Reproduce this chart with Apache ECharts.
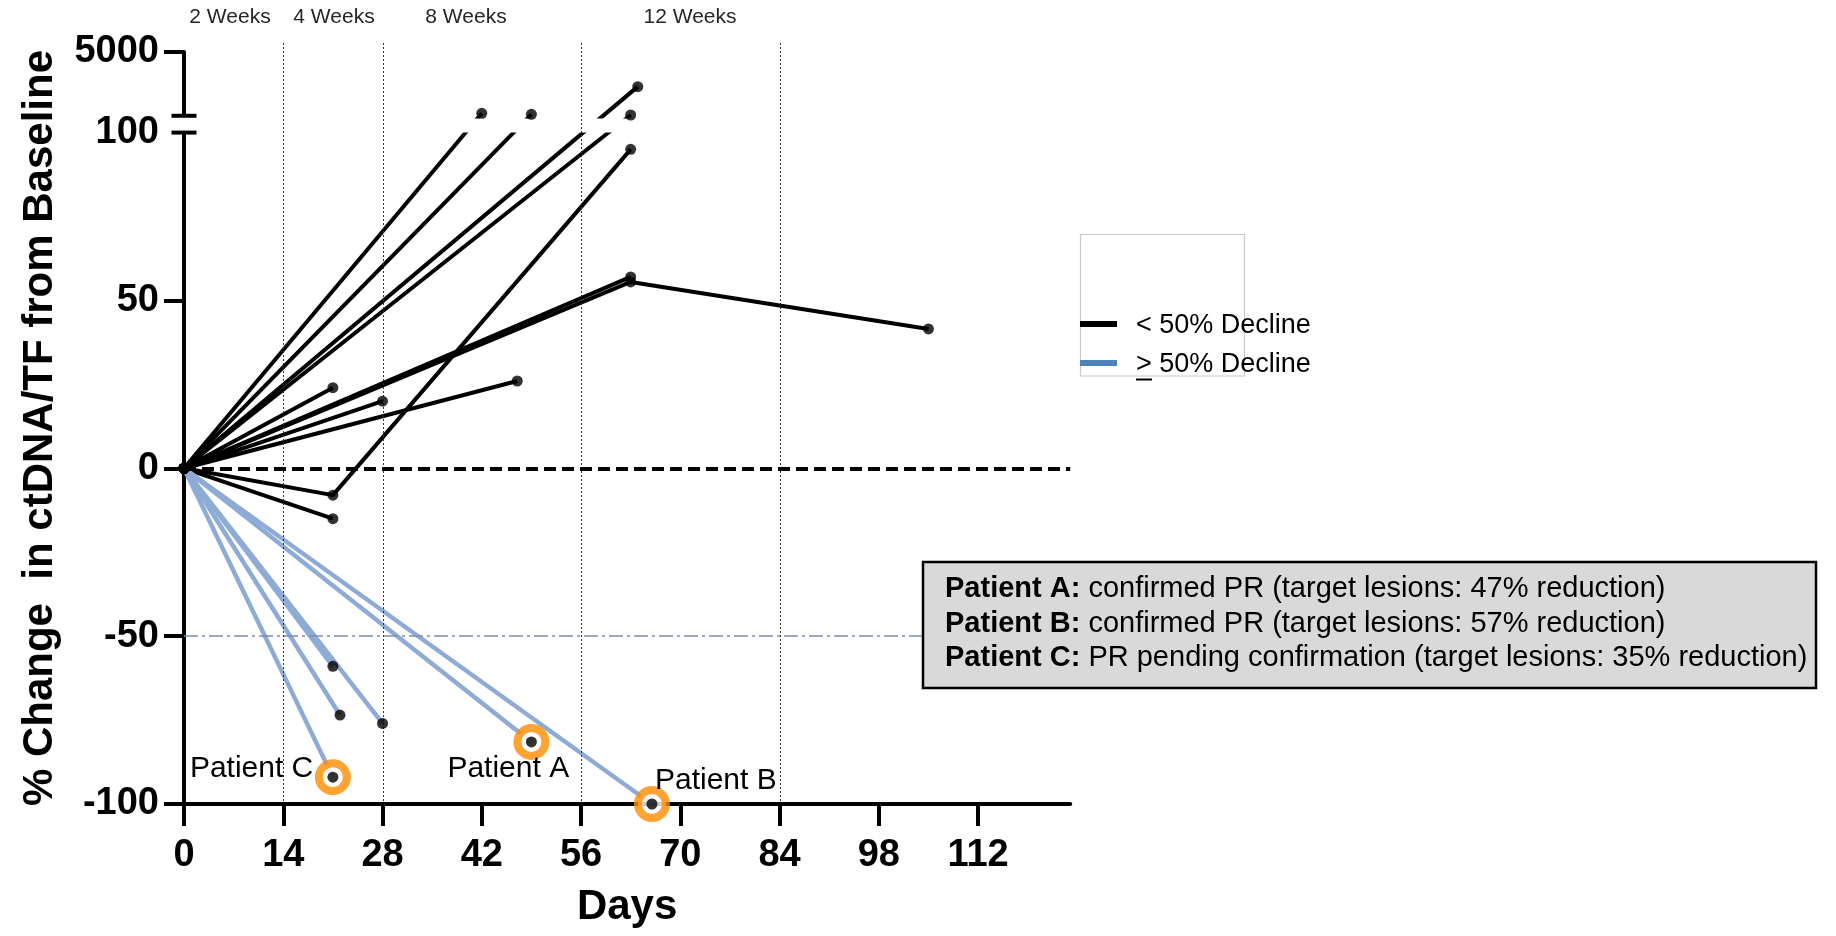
<!DOCTYPE html>
<html>
<head>
<meta charset="utf-8">
<title>ctDNA/TF change from baseline</title>
<script src="https://cdn.jsdelivr.net/npm/echarts@6/dist/echarts.min.js"></script>
<style>
  html, body { margin: 0; padding: 0; background: #ffffff; }
  #chart { width: 1836px; height: 936px; }
</style>
</head>
<body>
<div id="chart"></div>
<script>
// ---- Data -----------------------------------------------------------------
// Patients with < 50% decline: study day of each sample and % change from baseline
const lowDays = [
  [0, 42], [0, 49], [0, 64], [0, 63],
  [0, 21, 63], [0, 63], [0, 63, 105],
  [0, 21], [0, 28], [0, 47], [0, 21]
];
const lowChange = [
  [0, 290], [0, 215], [0, 2340], [0, 160],
  [0, -8, 95], [0, 57], [0, 55.5, 41.5],
  [0, 24], [0, 20], [0, 26], [0, -15]
];
// Patients with >= 50% decline
const highDays = [[0, 21], [0, 21], [0, 22], [0, 28], [0, 49], [0, 66]];
const highChange = [[0, -92], [0, -59], [0, -73.5], [0, -76], [0, -81.5], [0, -100]];

// Highlighted responders
const patientNames = ['Patient A', 'Patient B', 'Patient C'];
const patientDays = [49, 66, 21];
const patientChange = [-81.5, -100, -92];
const patientNotes = [
  'confirmed PR (target lesions: 47% reduction)',
  'confirmed PR (target lesions: 57% reduction)',
  'PR pending confirmation (target lesions: 35% reduction)'
];

const groupNames = ['< 50% Decline', '> 50% Decline'];
const dayTicks = [0, 14, 28, 42, 56, 70, 84, 98, 112];
const weekLineDays = [14, 28, 56, 84];
const weekLabels = ['2 Weeks', '4 Weeks', '8 Weeks', '12 Weeks'];
const changeTicks = [-100, -50, 0, 50, 100, 5000];
const responseThreshold = -50;

// ---- Broken y axis: -100..100 below the break, 100..5000 above it --------
const LOWER_MAX = 100, UPPER_MAX = 5000;
const AXIS_MIN = -100, AXIS_UPPER_BASE = 105, AXIS_TOP = 124, AXIS_GAP_TOP = 104.2;
function toAxis(v) {
  if (v <= LOWER_MAX) return v;
  return AXIS_UPPER_BASE + (v - LOWER_MAX) * (AXIS_TOP - AXIS_UPPER_BASE) / (UPPER_MAX - LOWER_MAX);
}
const yTickPos = changeTicks.map(toAxis);
function yTickText(v) {
  const i = yTickPos.findIndex(t => Math.abs(t - v) < 1e-6);
  return i < 0 ? '' : String(changeTicks[i]);
}

// ---- Styling ----------------------------------------------------------------
const FONT = '"Liberation Sans", Arial, Helvetica, sans-serif';
const BLACK = '#000000';
const BLUE = '#8DABD5';
const LEGEND_BLUE = '#4F81BD';
const ORANGE = '#FF8C00';
const DAY_MAX = 125;
const RING_SIZE = 28;
const ringLabelOffset = [[-107, 27], [-20, -23], [-166, -8]];
const weekLabelX = [230, 334, 466, 690];

function toPoints(days, change) {
  return days.map((d, i) => [d, toAxis(change[i])]);
}

const series = [];
lowDays.forEach((d, i) => {
  series.push({
    name: groupNames[0], type: 'line', data: toPoints(d, lowChange[i]),
    showSymbol: false, symbol: 'none', silent: true, z: 2,
    lineStyle: { color: BLACK, width: 4 }
  });
});
highDays.forEach((d, i) => {
  series.push({
    name: groupNames[1], type: 'line', data: toPoints(d, highChange[i]),
    showSymbol: false, symbol: 'none', silent: true, z: 2,
    lineStyle: { color: BLUE, width: 4.5 }
  });
});

// Reference lines: baseline (0 %) and the 50 % decline threshold
series[0].markLine = {
  silent: true, symbol: ['none', 'none'], animation: false,
  label: { show: false },
  data: [
    { yAxis: 0, lineStyle: { color: BLACK, width: 4, type: [12, 6] } },
    { yAxis: responseThreshold, lineStyle: { color: '#7B8FAA', width: 1.5, type: [14, 4, 3, 4] } }
  ]
};

// Every measurement drawn as a black dot
const allPoints = [];
lowDays.forEach((d, i) => toPoints(d, lowChange[i]).forEach(p => allPoints.push(p)));
highDays.forEach((d, i) => toPoints(d, highChange[i]).forEach(p => allPoints.push(p)));

// Orange rings marking the responders
series.push({
  type: 'scatter', silent: true, z: 5,
  data: patientNames.map((n, i) => ({
    name: n, value: [patientDays[i], toAxis(patientChange[i])],
    label: { offset: ringLabelOffset[i] }
  })),
  symbol: 'circle', symbolSize: RING_SIZE,
  itemStyle: { color: '#ffffff', borderColor: ORANGE, borderWidth: 8 },
  label: {
    show: true, position: 'right', distance: 5, formatter: '{b}',
    fontFamily: FONT, fontSize: 30, color: '#000000', textBorderWidth: 0, opacity: 1
  }
});
series.push({
  type: 'scatter', silent: true, z: 6, data: allPoints,
  symbol: 'circle', symbolSize: 11, itemStyle: { color: BLACK }
});

const chart = echarts.init(document.getElementById('chart'), null, { renderer: 'canvas' });

chart.setOption({
  animation: false,
  backgroundColor: '#ffffff',
  grid: { left: 184, right: 765.75, top: 52, bottom: 132, containLabel: false },
  xAxis: {
    type: 'value', min: 0, max: DAY_MAX, interval: 14,
    name: 'Days', nameLocation: 'middle', nameGap: 82,
    nameTextStyle: { fontFamily: FONT, fontSize: 42, fontWeight: 'bold', color: BLACK },
    axisLine: { onZero: false, lineStyle: { color: BLACK, width: 4 } },
    axisTick: { length: 22, customValues: dayTicks, lineStyle: { color: BLACK, width: 4 } },
    axisLabel: {
      customValues: dayTicks, margin: 33,
      fontFamily: FONT, fontSize: 38, fontWeight: 'bold', color: BLACK
    },
    splitLine: { show: false }
  },
  yAxis: {
    type: 'value', min: AXIS_MIN, max: AXIS_TOP, interval: 50,
    name: '% Change  in ctDNA/TF from Baseline', nameLocation: 'middle', nameGap: 123,
    nameTextStyle: { fontFamily: FONT, fontSize: 42, fontWeight: 'bold', color: BLACK },
    axisLine: { onZero: false, lineStyle: { color: BLACK, width: 4 } },
    axisTick: { length: 20, customValues: [-100, -50, 0, 50, toAxis(5000)], lineStyle: { color: BLACK, width: 4 } },
    axisLabel: {
      customValues: yTickPos, margin: 25, formatter: yTickText,
      fontFamily: FONT, fontSize: 38, fontWeight: 'bold', color: BLACK
    },
    splitLine: { show: false }
  },
  series: series
});

// ---- Decorations placed through the axes -------------------------------
const px = (x, y) => chart.convertToPixel({ gridIndex: 0 }, [x, y]);
const axisX = px(0, 0)[0];
const yBreakLo = px(0, LOWER_MAX)[1];
const yUpperBase = px(0, AXIS_UPPER_BASE)[1];
const yGapTop = px(0, AXIS_GAP_TOP)[1];
const xRight = px(DAY_MAX, 0)[0];
const yBottom = px(0, AXIS_MIN)[1];

const graphics = [];
// hide the lines inside the axis break
graphics.push({ type: 'rect', z: 3, silent: true,
  shape: { x: axisX + 2.5, y: yGapTop, width: xRight - axisX, height: yBreakLo - yGapTop },
  style: { fill: '#ffffff' } });
graphics.push({ type: 'rect', z: 3, silent: true,
  shape: { x: axisX - 3, y: yUpperBase, width: 6, height: yBreakLo - yUpperBase },
  style: { fill: '#ffffff' } });
// caps at both sides of the break
[yUpperBase, yBreakLo].forEach(y => graphics.push({ type: 'line', z: 7, silent: true,
  shape: { x1: axisX - 12.5, y1: y, x2: axisX + 12.5, y2: y },
  style: { stroke: BLACK, lineWidth: 4 } }));
// dotted visit-week guides
weekLineDays.forEach(d => {
  const x = Math.round(px(d, 0)[0]) + 0.5;
  graphics.push({ type: 'line', z: 4, silent: true,
    shape: { x1: x, y1: 43, x2: x, y2: yBottom - 2 },
    style: { stroke: '#333333', lineWidth: 1, lineDash: [2, 2] } });
});
weekLabels.forEach((t, i) => graphics.push({ type: 'text', z: 8, silent: true,
  style: { text: t, x: weekLabelX[i], y: 17, font: '21px ' + FONT, fill: '#262626',
    align: 'center', verticalAlign: 'middle', textAlign: 'center', textVerticalAlign: 'middle' } }));

// Legend
graphics.push({ type: 'rect', z: 8, silent: true,
  shape: { x: 1080.5, y: 234.5, width: 164, height: 141.5 },
  style: { fill: 'none', stroke: '#c9c9c9', lineWidth: 1.2 } });
[[BLACK, 324, 326], [LEGEND_BLUE, 363, 365]].forEach((row, i) => {
  graphics.push({ type: 'line', z: 9, silent: true,
    shape: { x1: 1080, y1: row[1], x2: 1117, y2: row[1] },
    style: { stroke: row[0], lineWidth: 6 } });
  graphics.push({ type: 'text', z: 9, silent: true,
    style: { text: groupNames[i], x: 1136, y: row[2], font: '27px ' + FONT, fill: BLACK,
      align: 'left', verticalAlign: 'middle', textAlign: 'left', textVerticalAlign: 'middle' } });
});
graphics.push({ type: 'line', z: 9, silent: true,
  shape: { x1: 1136, y1: 379.5, x2: 1152, y2: 379.5 },
  style: { stroke: BLACK, lineWidth: 2 } });

// Responder notes
graphics.push({ type: 'rect', z: 10, silent: true,
  shape: { x: 923, y: 562, width: 893, height: 126 },
  style: { fill: '#D9D9D9', stroke: BLACK, lineWidth: 2.5 } });
patientNames.forEach((name, i) => graphics.push({ type: 'text', z: 11, silent: true,
  style: {
    text: '{b|' + name + ':} ' + patientNotes[i],
    x: 945, y: 589 + i * 34.5, font: '29px ' + FONT, fill: BLACK,
    align: 'left', verticalAlign: 'middle', textAlign: 'left', textVerticalAlign: 'middle',
    rich: { b: { fontFamily: FONT, fontSize: 29, fontWeight: 'bold', fill: BLACK } }
  } }));

chart.setOption({ graphic: graphics });
</script>
</body>
</html>
